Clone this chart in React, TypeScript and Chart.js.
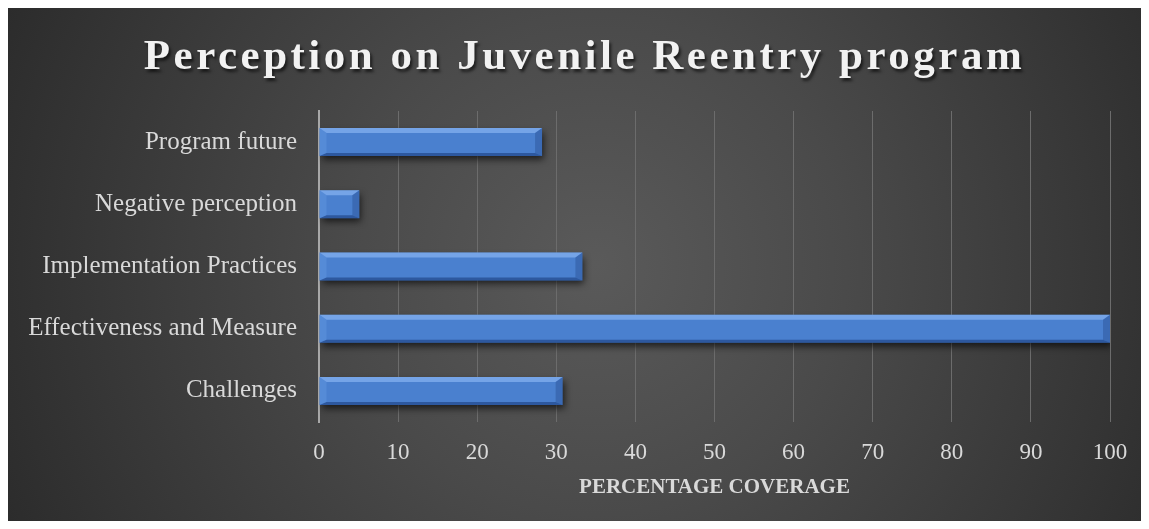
import React, { useEffect, useRef } from 'react';
import { Chart, registerables } from 'chart.js';

Chart.register(...registerables);

const categories = [
  'Program future',
  'Negative perception',
  'Implementation Practices',
  'Effectiveness and Measure',
  'Challenges',
];
const coverage = [28.2, 5.1, 33.3, 100, 30.8];
const xMin = 0;
const xMax = 100;
const xStep = 10;
const chartTitle = 'Perception on Juvenile Reentry program';
const xAxisTitle = 'PERCENTAGE COVERAGE';

const SERIF = "'Liberation Serif', 'Times New Roman', serif";
const W = 1133;
const H = 513;

const bevelPlugin = {
  id: 'bevel',
  beforeDatasetDraw(chart: any) {
    const ctx = chart.ctx;
    ctx.save();
    ctx.shadowColor = 'rgba(0,0,0,0.65)';
    ctx.shadowBlur = 7;
    ctx.shadowOffsetX = 2;
    ctx.shadowOffsetY = 4;
  },
  afterDatasetDraw(chart: any, args: any) {
    const ctx = chart.ctx;
    ctx.restore();
    const meta = args.meta;
    meta.data.forEach((el: any) => {
      const p = el.getProps(['x', 'y', 'base', 'height'], true);
      const L = Math.min(p.base, p.x);
      const R = Math.max(p.base, p.x);
      const T = p.y - p.height / 2;
      const B = p.y + p.height / 2;
      const b = Math.min(7, (R - L) / 2, p.height / 2);
      const bt = Math.min(5, p.height / 3);
      const poly = (pts: number[][], fill: any) => {
        ctx.beginPath();
        ctx.moveTo(pts[0][0], pts[0][1]);
        for (let i = 1; i < pts.length; i++) ctx.lineTo(pts[i][0], pts[i][1]);
        ctx.closePath();
        ctx.fillStyle = fill;
        ctx.fill();
      };
      ctx.save();
      poly([[L, T], [R, T], [R - b, T + bt], [L + b, T + bt]], 'rgba(160,200,255,0.5)');
      poly([[L, B], [R, B], [R - b, B - 3], [L + b, B - 3]], 'rgba(10,40,100,0.45)');
      poly([[L, T], [L + b, T + bt], [L + b, B - 3], [L, B]], 'rgba(120,170,240,0.25)');
      poly([[R, T], [R - b, T + bt], [R - b, B - 3], [R, B]], 'rgba(20,50,110,0.28)');
      ctx.restore();
    });
  },
};

export default function App() {
  const canvasRef = useRef<HTMLCanvasElement | null>(null);

  useEffect(() => {
    const canvas = canvasRef.current;
    if (!canvas) return;
    const chart = new Chart(canvas, {
      type: 'bar',
      data: {
        labels: categories,
        datasets: [
          {
            label: 'Coverage',
            data: coverage,
            backgroundColor: '#4a80cf',
            borderWidth: 0,
            barPercentage: 0.45,
            categoryPercentage: 1,
          },
        ],
      },
      options: {
        indexAxis: 'y',
        responsive: false,
        animation: false,
        devicePixelRatio: 1,
        layout: { padding: { top: 103, right: 31, left: 0, bottom: 0 } },
        plugins: {
          legend: { display: false },
          title: { display: false },
          tooltip: { enabled: false },
        },
        scales: {
          x: {
            type: 'linear',
            min: xMin,
            max: xMax,
            afterFit(scale: any) {
              scale.height = 99;
              scale.paddingRight = 0;
              scale.paddingLeft = 0;
            },
            ticks: {
              stepSize: xStep,
              color: '#d9d9d9',
              font: { family: SERIF, size: 23 },
              padding: 17,
            },
            grid: {
              drawTicks: false,
              color: (c: any) => (c.index === 0 ? 'rgba(0,0,0,0)' : '#6c6c6c'),
              lineWidth: 1,
            },
            border: { display: false },
            title: {
              display: true,
              text: xAxisTitle,
              color: '#d9d9d9',
              font: { family: SERIF, size: 21, weight: 'bold' },
              padding: { top: 0, bottom: 21 },
            },
          },
          y: {
            afterFit(scale: any) {
              scale.width = 311;
            },
            ticks: {
              color: '#d9d9d9',
              font: { family: SERIF, size: 25 },
              padding: 22,
            },
            grid: { display: false, drawTicks: false },
            border: { display: true, color: '#a8a8a8', width: 2 },
          },
        },
      },
      plugins: [bevelPlugin],
    } as any);
    return () => chart.destroy();
  }, []);

  return (
    <div
      style={{
        position: 'relative',
        width: W,
        height: H,
        background:
          'radial-gradient(circle at 52% 50%, #5a5a5a 0px, #4a4a4a 250px, #262626 720px)',
        overflow: 'hidden',
      }}
    >
      <div
        style={{
          position: 'absolute',
          left: 0,
          top: 23,
          width: W,
          paddingLeft: 20,
          boxSizing: 'border-box',
          textAlign: 'center',
          fontFamily: SERIF,
          fontWeight: 'bold',
          fontSize: 43,
          lineHeight: '48px',
          letterSpacing: '3.5px',
          color: '#f2f2f2',
          textShadow: '2px 3px 3px rgba(0,0,0,0.6)',
          whiteSpace: 'nowrap',
          zIndex: 2,
        }}
      >
        {chartTitle}
      </div>
      <canvas
        ref={canvasRef}
        width={W}
        height={H}
        style={{ position: 'absolute', left: 0, top: 0, width: W, height: H }}
      />
    </div>
  );
}
